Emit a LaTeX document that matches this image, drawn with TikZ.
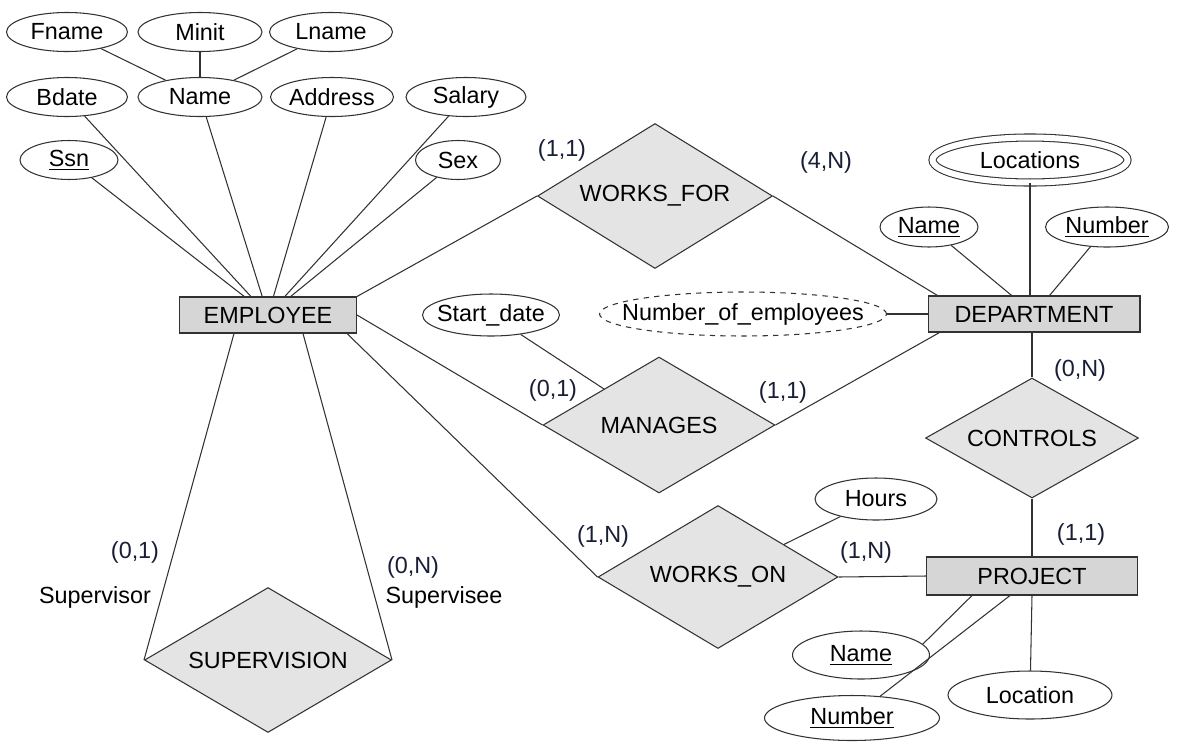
\documentclass[tikz,border=0pt]{standalone}
\usepackage{fontspec}
\setmainfont{Liberation Sans}
\usetikzlibrary{shapes.geometric,calc}
\definecolor{erline}{RGB}{50,50,50}
\definecolor{relfill}{RGB}{228,228,228}
\definecolor{entfill}{RGB}{214,214,214}
\definecolor{cardink}{RGB}{25,30,55}

\tikzset{
  entity/.style={draw=erline, fill=entfill, rectangle, inner sep=0pt},
  relation/.style={draw=erline, fill=relfill, diamond, aspect=1.6, inner sep=0pt},
  attr/.style={draw=erline, fill=white, ellipse, inner xsep=-5mm, inner ysep=0pt},
  card/.style={text=cardink},
  link/.style={draw=erline}
}

\begin{document}
\begin{tikzpicture}[x=0.02cm, y=-0.02cm, line width=0.6pt,
    every node/.style={font=\fontsize{13.3}{16}\selectfont}]
    \useasboundingbox (0,0) rectangle (1183,741);

    % Entities
    \node[entity, minimum width=3.54cm, minimum height=0.72cm] (emp) at (268,315) {EMPLOYEE};
    \node[entity, minimum width=4.24cm, minimum height=0.72cm] (dept) at (1034,314) {DEPARTMENT};
    \node[entity, minimum width=4.22cm, minimum height=0.76cm] (proj) at (1032,576) {PROJECT};

    % Relationships
    \node[relation, minimum width=4.7cm, minimum height=2.9cm] (wf) at (655,196) {WORKS\_FOR};
    \node[relation, minimum width=4.64cm, minimum height=2.72cm] (man) at (659,425) {MANAGES};
    \node[relation, minimum width=4.26cm, minimum height=2.4cm] (ctrl) at (1032,438) {CONTROLS};
    \node[relation, minimum width=4.8cm, minimum height=2.86cm] (won) at (718,577) {WORKS\_ON};
    \node[relation, minimum width=4.94cm, minimum height=2.9cm] (sup) at (268,660) {SUPERVISION};

    % EMPLOYEE attributes
    \node[attr, minimum width=2.42cm, minimum height=0.78cm] (fname) at (67,32) {Fname};
    \node[attr, minimum width=2.48cm, minimum height=0.78cm] (minit) at (200,32) {Minit};
    \node[attr, minimum width=2.46cm, minimum height=0.78cm] (lname) at (331,32) {Lname};
    \node[attr, minimum width=2.42cm, minimum height=0.78cm] (bdate) at (67,97) {Bdate};
    \node[attr, minimum width=2.48cm, minimum height=0.78cm] (ename) at (200,97) {Name};
    \node[attr, minimum width=2.46cm, minimum height=0.78cm] (address) at (332,97) {Address};
    \node[attr, minimum width=2.4cm, minimum height=0.78cm] (salary) at (466,97) {Salary};
    \node[attr, minimum width=1.96cm, minimum height=0.78cm] (ssn) at (69,160) {\underline{Ssn}};
    \node[attr, minimum width=1.7cm, minimum height=0.78cm] (sex) at (458,160) {Sex};

    % DEPARTMENT attributes
    \node[attr, double, double distance=0.12cm, minimum width=3.9cm, minimum height=0.9cm] (locs) at (1030,160) {Locations};
    \node[attr, minimum width=1.96cm, minimum height=0.8cm] (dname) at (929,227) {\underline{Name}};
    \node[attr, minimum width=2.46cm, minimum height=0.8cm] (dnumber) at (1107,227) {\underline{Number}};
    \node[attr, dashed, minimum width=5.74cm, minimum height=0.88cm] (numemp) at (743,314) {Number\_of\_employees};

    % relationship attributes
    \node[attr, minimum width=2.74cm, minimum height=0.84cm] (start) at (491,315) {Start\_date};
    \node[attr, minimum width=2.44cm, minimum height=0.84cm] (hours) at (876,499) {Hours};

    % PROJECT attributes
    \node[attr, minimum width=2.74cm, minimum height=0.96cm] (pname) at (861,655) {\underline{Name}};
    \node[attr, minimum width=3.5cm, minimum height=0.9cm] (pnumber) at (852,718) {\underline{Number}};
    \node[attr, minimum width=3.28cm, minimum height=0.96cm] (ploc) at (1030,695) {Location};

    % Attribute links
    \foreach \a in {fname,minit,lname} \draw[link] (\a) -- (ename);
    \foreach \a in {ssn,bdate,ename,address,salary,sex} \draw[link] (\a) -- (emp);
    \foreach \a in {dname,dnumber} \draw[link] (\a) -- (dept);
    \draw[link] (locs) -- (locs |- dept.north);
    \draw[link] (numemp) -- (dept.west);
    \draw[link] (start) -- (man);
    \draw[link] (hours) -- (won);
    \draw[link] ($(proj.south)+(-60,0)$) -- (pname.10);
    \draw[link] ($(proj.south)+(-22,0)$) -- (pnumber);
    \draw[link] (proj.south) -- (ploc);

    % Relationship links
    \draw[link] (emp.north east) -- (wf.west);
    \draw[link] (wf.east) -- ($(dept.north west)+(10,0)$);
    \draw[link] (emp.east) -- (man.west);
    \draw[link] (man.east) -- ($(dept.south west)+(12,0)$);
    \draw[link] ($(emp.south east)+(-10,0)$) -- (won.west);
    \draw[link] (won.east) -- (proj.west);
    \draw[link] (ctrl.north) -- (ctrl.north |- dept.south);
    \draw[link] (ctrl.south) -- (ctrl.south |- proj.north);
    \draw[link] ($(emp.south)+(-34,0)$) -- (sup.west);
    \draw[link] ($(emp.south)+(35,0)$) -- (sup.east);

    % Cardinalities
    \node[card] (wfemp) at (562,150) {(1,1)};
    \node[card] (wfdept) at (826,162) {(4,N)};
    \node[card] (manemp) at (553,390) {(0,1)};
    \node[card] (mandept) at (783,392) {(1,1)};
    \node[card] (ctrldept) at (1080,370) {(0,N)};
    \node[card] (ctrlproj) at (1081,534) {(1,1)};
    \node[card] (wonemp) at (603,536) {(1,N)};
    \node[card] (wonproj) at (866,552) {(1,N)};
    \node[card] (supr) at (135,552) {(0,1)};
    \node[card] (supe) at (413,567) {(0,N)};

    % Roles
    \node (suprole) at (95,597) {Supervisor};
    \node (superole) at (444,597) {Supervisee};
\end{tikzpicture}
\end{document}
